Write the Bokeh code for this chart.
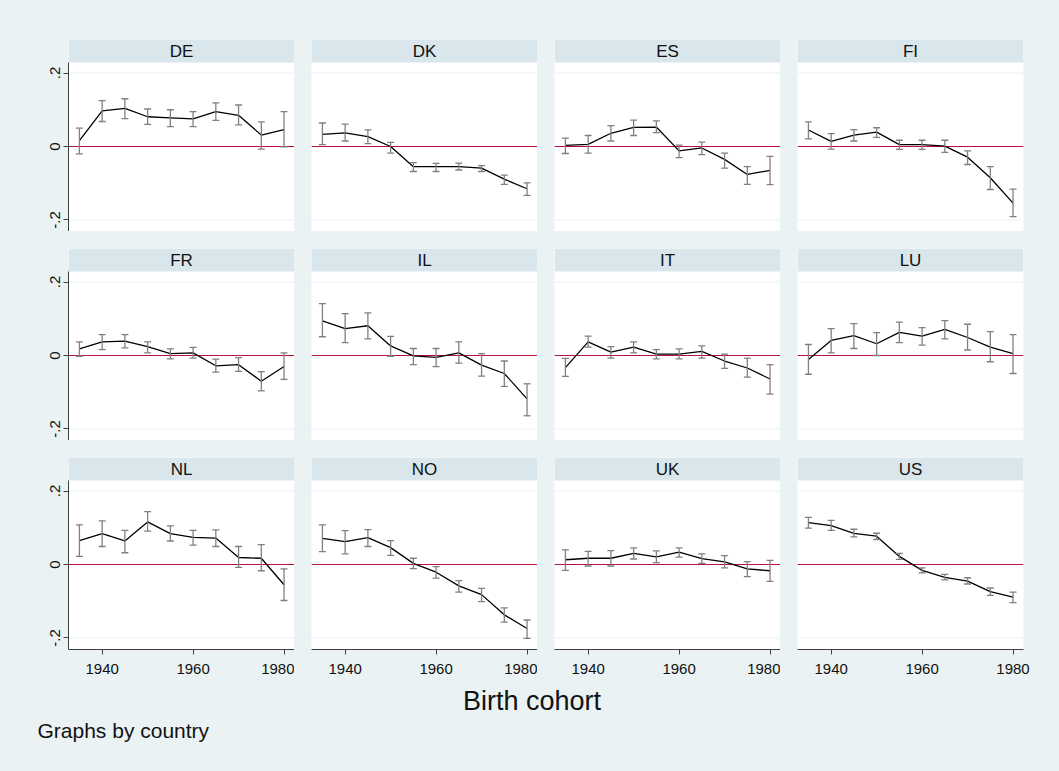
from bokeh.plotting import figure
from bokeh.layouts import row, column
from bokeh.models import (Range1d, FixedTicker, Span, Whisker, TeeHead,
                          ColumnDataSource, Label, GlobalInlineStyleSheet)
from bokeh.embed import file_html
from bokeh.resources import INLINE

# ---------------- data ----------------
cohorts = [1935, 1940, 1945, 1950, 1955, 1960, 1965, 1970, 1975, 1980]
countries = ["DE", "DK", "ES", "FI", "FR", "IL", "IT", "LU", "NL", "NO", "UK", "US"]

est_DE = [0.016, 0.097, 0.104, 0.081, 0.078, 0.075, 0.095, 0.085, 0.031, 0.046]
lo_DE = [-0.020, 0.068, 0.076, 0.060, 0.054, 0.054, 0.071, 0.059, -0.007, -0.001]
hi_DE = [0.050, 0.125, 0.130, 0.102, 0.100, 0.095, 0.119, 0.113, 0.067, 0.095]

est_DK = [0.033, 0.037, 0.027, 0.000, -0.055, -0.055, -0.055, -0.059, -0.089, -0.115]
lo_DK = [0.005, 0.015, 0.008, -0.018, -0.068, -0.068, -0.064, -0.068, -0.103, -0.133]
hi_DK = [0.064, 0.061, 0.045, 0.011, -0.044, -0.046, -0.045, -0.052, -0.078, -0.099]

est_ES = [0.003, 0.006, 0.036, 0.052, 0.053, -0.012, -0.004, -0.035, -0.076, -0.065]
lo_ES = [-0.019, -0.018, 0.015, 0.030, 0.038, -0.030, -0.022, -0.059, -0.103, -0.104]
hi_ES = [0.023, 0.030, 0.057, 0.072, 0.070, 0.004, 0.012, -0.018, -0.055, -0.027]

est_FI = [0.045, 0.014, 0.031, 0.039, 0.005, 0.005, 0.001, -0.029, -0.085, -0.154]
lo_FI = [0.021, -0.007, 0.015, 0.025, -0.008, -0.008, -0.016, -0.049, -0.117, -0.191]
hi_FI = [0.067, 0.035, 0.046, 0.051, 0.017, 0.017, 0.017, -0.012, -0.055, -0.116]

est_FR = [0.018, 0.037, 0.039, 0.024, 0.005, 0.007, -0.028, -0.025, -0.070, -0.030]
lo_FR = [-0.002, 0.016, 0.021, 0.007, -0.009, -0.007, -0.045, -0.043, -0.096, -0.065]
hi_FR = [0.037, 0.057, 0.057, 0.037, 0.018, 0.022, -0.010, -0.006, -0.044, 0.007]

est_IL = [0.094, 0.073, 0.081, 0.026, -0.001, -0.005, 0.007, -0.026, -0.049, -0.118]
lo_IL = [0.051, 0.035, 0.045, -0.002, -0.025, -0.030, -0.021, -0.056, -0.084, -0.164]
hi_IL = [0.141, 0.114, 0.116, 0.052, 0.019, 0.019, 0.037, 0.005, -0.015, -0.077]

est_IT = [-0.033, 0.037, 0.009, 0.023, 0.004, 0.004, 0.011, -0.015, -0.034, -0.064]
lo_IT = [-0.057, 0.023, -0.007, 0.007, -0.009, -0.009, -0.007, -0.035, -0.059, -0.105]
hi_IT = [-0.008, 0.053, 0.024, 0.037, 0.016, 0.018, 0.026, 0.004, -0.007, -0.025]

est_LU = [-0.011, 0.041, 0.054, 0.032, 0.063, 0.053, 0.071, 0.049, 0.023, 0.005]
lo_LU = [-0.051, 0.007, 0.019, 0.000, 0.035, 0.028, 0.045, 0.015, -0.017, -0.049]
hi_LU = [0.030, 0.073, 0.087, 0.062, 0.091, 0.076, 0.095, 0.085, 0.065, 0.057]

est_NL = [0.065, 0.084, 0.064, 0.116, 0.084, 0.074, 0.072, 0.019, 0.017, -0.055]
lo_NL = [0.022, 0.049, 0.032, 0.091, 0.064, 0.053, 0.049, -0.008, -0.017, -0.098]
hi_NL = [0.108, 0.119, 0.093, 0.144, 0.105, 0.093, 0.094, 0.049, 0.054, -0.012]

est_NO = [0.071, 0.062, 0.073, 0.046, 0.003, -0.021, -0.058, -0.082, -0.137, -0.174]
lo_NO = [0.035, 0.029, 0.049, 0.025, -0.011, -0.037, -0.075, -0.101, -0.157, -0.201]
hi_NO = [0.108, 0.092, 0.095, 0.065, 0.017, -0.006, -0.044, -0.065, -0.118, -0.151]

est_UK = [0.013, 0.017, 0.017, 0.030, 0.021, 0.034, 0.016, 0.007, -0.012, -0.017]
lo_UK = [-0.016, -0.004, -0.004, 0.015, 0.005, 0.020, 0.003, -0.009, -0.033, -0.046]
hi_UK = [0.040, 0.036, 0.038, 0.045, 0.037, 0.045, 0.029, 0.024, 0.008, 0.011]

est_US = [0.114, 0.106, 0.085, 0.077, 0.022, -0.016, -0.035, -0.045, -0.074, -0.089]
lo_US = [0.099, 0.093, 0.075, 0.068, 0.014, -0.023, -0.042, -0.053, -0.084, -0.104]
hi_US = [0.128, 0.120, 0.096, 0.085, 0.030, -0.009, -0.027, -0.036, -0.064, -0.075]

series = {
    "DE": (est_DE, lo_DE, hi_DE), "DK": (est_DK, lo_DK, hi_DK),
    "ES": (est_ES, lo_ES, hi_ES), "FI": (est_FI, lo_FI, hi_FI),
    "FR": (est_FR, lo_FR, hi_FR), "IL": (est_IL, lo_IL, hi_IL),
    "IT": (est_IT, lo_IT, hi_IT), "LU": (est_LU, lo_LU, hi_LU),
    "NL": (est_NL, lo_NL, hi_NL), "NO": (est_NO, lo_NO, hi_NO),
    "UK": (est_UK, lo_UK, hi_UK), "US": (est_US, lo_US, hi_US),
}

x_ticks = [1940, 1960, 1980]
y_ticks = [-0.2, 0, 0.2]
y_tick_labels = {-0.2: "-.2", 0: "0", 0.2: ".2"}

# ---------------- styling / layout ----------------
BG = "#eaf2f3"
HEADER = "#d9e6eb"
ZERO = "#b8123c"
CI_COL = "#808080"
FONT = "Liberation Sans"

FRAME_W, FRAME_H = 226, 192
X0, X1 = 1932.6, 1982.3
Y_BOT, PLOT_TOP, Y_TOP = -0.2313, 0.2286, 0.2912
LEFT0, TOP0, GAP, RIGHT_END = 68, 39, 17, 25

figs_rows = []
for r in range(3):
    figs = []
    for c in range(4):
        name = countries[r * 4 + c]
        est, lo, hi = series[name]
        p = figure(
            frame_width=FRAME_W, frame_height=FRAME_H,
            x_range=Range1d(X0, X1), y_range=Range1d(Y_BOT, Y_TOP),
            x_axis_location="below" if r == 2 else None,
            y_axis_location="left" if c == 0 else None,
            min_border_left=LEFT0 if c == 0 else GAP,
            min_border_right=RIGHT_END if c == 3 else 0,
            min_border_top=TOP0 if r == 0 else GAP,
            min_border_bottom=32 if r == 2 else 0,
            toolbar_location=None, output_backend="svg",
            background_fill_color="white", border_fill_color=BG,
            outline_line_color=None,
        )
        p.grid.visible = False

        for gy in (-0.2, 0.2):
            p.add_layout(Span(location=gy, dimension="width", line_color=BG,
                              line_width=1.2, level="underlay"))

        # header strip
        p.quad(left=[X0], right=[X1], bottom=[PLOT_TOP], top=[Y_TOP],
               fill_color=HEADER, line_color=None)
        p.add_layout(Label(x=(X0 + X1) / 2, y=(PLOT_TOP + Y_TOP) / 2, text=name,
                           text_align="center", text_baseline="middle",
                           text_font=FONT, text_font_size="17px",
                           text_color="#111111"))

        p.add_layout(Span(location=0, dimension="width", line_color=ZERO,
                          line_width=1.1, level="underlay"))

        src = ColumnDataSource(dict(x=cohorts, y=est, lo=lo, hi=hi))
        w = Whisker(base="x", upper="hi", lower="lo", source=src,
                    line_color=CI_COL, line_width=1.3, level="glyph",
                    upper_head=TeeHead(size=7, line_color=CI_COL, line_width=1.3),
                    lower_head=TeeHead(size=7, line_color=CI_COL, line_width=1.3))
        p.add_layout(w)
        p.line("x", "y", source=src, line_color="black", line_width=1.3)

        if c == 0:
            ax = p.yaxis[0]
            ax.ticker = FixedTicker(ticks=y_ticks)
            ax.major_label_overrides = y_tick_labels
            ax.bounds = (Y_BOT, PLOT_TOP)
            ax.major_label_orientation = "vertical"
            ax.minor_tick_line_color = None
            ax.major_tick_in = 0
            ax.major_tick_out = 5
            ax.major_label_standoff = 3
            ax.axis_line_color = "#404040"
            ax.major_tick_line_color = "#404040"
            ax.major_label_text_font = FONT
            ax.major_label_text_font_size = "15px"
            ax.major_label_text_color = "#111111"
        if r == 2:
            ax = p.xaxis[0]
            ax.ticker = FixedTicker(ticks=x_ticks)
            ax.minor_tick_line_color = None
            ax.major_tick_in = 0
            ax.major_tick_out = 5
            ax.major_label_standoff = 9
            ax.axis_line_color = "#404040"
            ax.major_tick_line_color = "#404040"
            ax.major_label_text_font = FONT
            ax.major_label_text_font_size = "15px"
            ax.major_label_text_color = "#111111"
        figs.append(p)
    figs_rows.append(row(*figs))

TOTAL_W = LEFT0 + FRAME_W + 3 * (GAP + FRAME_W) + RIGHT_END
BOT_H = 86
bottom = figure(width=TOTAL_W, height=BOT_H, x_range=Range1d(0, TOTAL_W),
                y_range=Range1d(0, BOT_H), x_axis_location=None, y_axis_location=None,
                min_border=0, toolbar_location=None, output_backend="svg",
                background_fill_color=BG, border_fill_color=BG, outline_line_color=None)
bottom.grid.visible = False
bottom.add_layout(Label(x=531.5, y=BOT_H - 19, text="Birth cohort", text_align="center",
                        text_baseline="middle", text_font=FONT,
                        text_font_size="27px", text_color="#111111"))
bottom.add_layout(Label(x=37, y=BOT_H - 49, text="Graphs by country", text_align="left",
                        text_baseline="middle", text_font=FONT,
                        text_font_size="21px", text_color="#111111"))

layout = column(*figs_rows, bottom)
layout.stylesheets = [GlobalInlineStyleSheet(css="body { background-color: #eaf2f3; }")]

open("out.html", "w").write(file_html(layout, INLINE))
